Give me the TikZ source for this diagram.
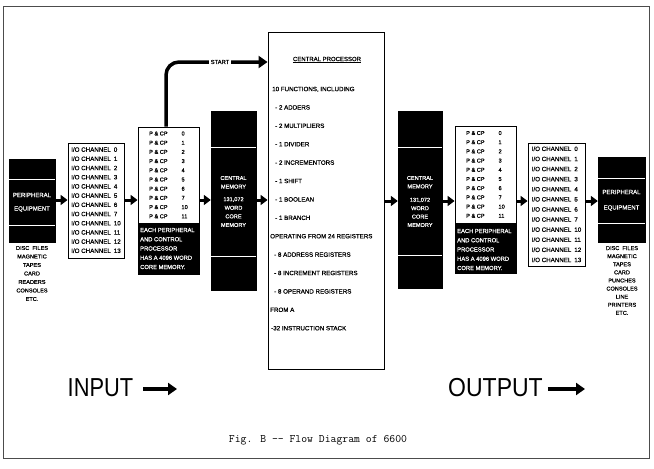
\documentclass[tikz,border=0pt]{standalone}
\usepackage{fontspec}
\setmainfont{Liberation Sans}
\newfontfamily\lett{Liberation Sans}[FakeBold=0.6]
\usetikzlibrary{arrows.meta}
\begin{document}
\begin{tikzpicture}[x=1pt,y=-1pt,
  box/.style={draw, line width=0.9pt, inner sep=0pt, fill=white},
  blk/.style={fill=black, draw=black, inner sep=0pt},
  wline/.style={draw=white, line width=1pt},
  arr/.style={line width=3pt, -{Triangle[length=7pt,width=10pt]}},
  bigarr/.style={line width=4pt, -{Triangle[length=9pt,width=12pt]}},
  wtxt/.style={text=white, inner sep=0pt, align=center},
  btxt/.style={inner sep=0pt, align=center},
]
\useasboundingbox (0,0) rectangle (654,469);
\draw[line width=0.8pt, black!70] (3.5,6) rectangle (649,458);

% ---------- left peripheral equipment
\node[blk, minimum width=46pt, minimum height=83pt] (lpe) at (32,200.5) {};
\draw[wline] (lpe.west |- 0,179) -- (lpe.east |- 0,179);
\draw[wline] (lpe.west |- 0,225) -- (lpe.east |- 0,225);
\node[wtxt, font=\lett\fontsize{6}{7}\selectfont] (lpe1) at (32,195) {PERIPHERAL};
\node[wtxt, font=\lett\fontsize{6}{7}\selectfont] (lpe2) at (32,209) {EQUIPMENT};
\node[btxt, font=\lett\fontsize{5.6}{8.5}\selectfont] (lpel) at (32,273.5)
  {DISC\ \ FILES\\MAGNETIC\\TAPES\\CARD\\READERS\\CONSOLES\\ETC.};

% ---------- left I/O channels
\node[box, minimum width=56pt, minimum height=115pt, font=\lett\fontsize{6.2}{9.2}\selectfont] (lio) at (96,200.5)
  {\begin{tabular}{@{}l@{\hspace{3pt}}l@{}}
   I/O CHANNEL & 0\\ I/O CHANNEL & 1\\ I/O CHANNEL & 2\\ I/O CHANNEL & 3\\
   I/O CHANNEL & 4\\ I/O CHANNEL & 5\\ I/O CHANNEL & 6\\ I/O CHANNEL & 7\\
   I/O CHANNEL & 10\\ I/O CHANNEL & 11\\ I/O CHANNEL & 12\\ I/O CHANNEL & 13
   \end{tabular}};

% ---------- left PPUs
\node[box, minimum width=61pt, minimum height=96pt, font=\lett\fontsize{5.6}{9.2}\selectfont] (lppu) at (168.5,175)
  {\begin{tabular}{@{}l@{\hspace{14pt}}l@{}}
   P \& CP & 0\\ P \& CP & 1\\ P \& CP & 2\\ P \& CP & 3\\ P \& CP & 4\\
   P \& CP & 5\\ P \& CP & 6\\ P \& CP & 7\\ P \& CP & 10\\ P \& CP & 11
   \end{tabular}};
\node[blk, minimum width=61pt, minimum height=51pt] (lppub) at (168.5,248.5) {};
\node[text=white, inner sep=0pt, align=left, anchor=west, font=\lett\fontsize{5.8}{9.25}\selectfont] (lppt) at (140,248.5)
  {EACH PERIPHERAL\\AND CONTROL\\PROCESSOR\\HAS A 4096 WORD\\CORE MEMORY.};

% ---------- left central memory
\node[blk, minimum width=45pt, minimum height=179pt] (lcm) at (233.5,200.5) {};
\draw[wline] (lcm.west |- 0,147) -- (lcm.east |- 0,147);
\draw[wline] (lcm.west |- 0,256) -- (lcm.east |- 0,256);
\node[wtxt, font=\lett\fontsize{5.6}{8.6}\selectfont] (lcmt) at (233.5,201.5)
  {CENTRAL\\MEMORY\\[4pt]131,072\\WORD\\CORE\\MEMORY};

% ---------- central processor
\node[box, minimum width=116pt, minimum height=337pt] (cp) at (326,200.5) {};
\node[btxt, font=\lett\fontsize{6}{7}\selectfont] (cpt) at (327,60) {\underline{CENTRAL PROCESSOR}};
\node[inner sep=0pt, align=left, anchor=west, font=\lett\fontsize{6.2}{18.4}\selectfont] (cpl) at (270,208.6)
  {\hspace*{2pt}10 FUNCTIONS, INCLUDING\\
   \hspace*{5pt}- 2 ADDERS\\
   \hspace*{5pt}- 2 MULTIPLIERS\\
   \hspace*{5pt}- 1 DIVIDER\\
   \hspace*{5pt}- 2 INCREMENTORS\\
   \hspace*{5pt}- 1 SHIFT\\
   \hspace*{5pt}- 1 BOOLEAN\\
   \hspace*{5pt}- 1 BRANCH\\
   OPERATING FROM 24 REGISTERS\\
   \hspace*{4pt}- 8 ADDRESS REGISTERS\\
   \hspace*{4pt}- 8 INCREMENT REGISTERS\\
   \hspace*{4pt}- 8 OPERAND REGISTERS\\
   FROM A\\
   \hspace*{1pt}-32 INSTRUCTION STACK};

% ---------- right central memory
\node[blk, minimum width=44pt, minimum height=177pt] (rcm) at (420,199.5) {};
\draw[wline] (rcm.west |- 0,147) -- (rcm.east |- 0,147);
\draw[wline] (rcm.west |- 0,255) -- (rcm.east |- 0,255);
\node[wtxt, font=\lett\fontsize{5.6}{8.4}\selectfont] (rcmt) at (420,201.5)
  {CENTRAL\\MEMORY\\[5pt]131,072\\WORD\\CORE\\MEMORY};

% ---------- right PPUs
\node[box, minimum width=61pt, minimum height=97pt, font=\lett\fontsize{5.6}{9.2}\selectfont] (rppu) at (485.5,174.5)
  {\begin{tabular}{@{}l@{\hspace{14pt}}l@{}}
   P \& CP & 0\\ P \& CP & 1\\ P \& CP & 2\\ P \& CP & 3\\ P \& CP & 4\\
   P \& CP & 5\\ P \& CP & 6\\ P \& CP & 7\\ P \& CP & 10\\ P \& CP & 11
   \end{tabular}};
\node[blk, minimum width=61pt, minimum height=50pt] (rppub) at (485.5,248) {};
\node[text=white, inner sep=0pt, align=left, anchor=west, font=\lett\fontsize{5.8}{9.25}\selectfont] (rppt) at (457,249.5)
  {EACH PERIPHERAL\\AND CONTROL\\PROCESSOR\\HAS A 4096 WORD\\CORE MEMORY.};

% ---------- right I/O channels
\node[box, minimum width=57pt, minimum height=123pt, font=\lett\fontsize{6.2}{10.1}\selectfont] (rio) at (556.5,204.5)
  {\begin{tabular}{@{}l@{\hspace{3pt}}l@{}}
   I/O CHANNEL & 0\\ I/O CHANNEL & 1\\ I/O CHANNEL & 2\\ I/O CHANNEL & 3\\
   I/O CHANNEL & 4\\ I/O CHANNEL & 5\\ I/O CHANNEL & 6\\ I/O CHANNEL & 7\\
   I/O CHANNEL & 10\\ I/O CHANNEL & 11\\ I/O CHANNEL & 12\\ I/O CHANNEL & 13
   \end{tabular}};

% ---------- right peripheral equipment
\node[blk, minimum width=47pt, minimum height=85pt] (rpe) at (621.5,199.5) {};
\draw[wline] (rpe.west |- 0,178) -- (rpe.east |- 0,178);
\draw[wline] (rpe.west |- 0,223) -- (rpe.east |- 0,223);
\node[wtxt, font=\lett\fontsize{6}{7}\selectfont] (rpe1) at (621.5,192) {PERIPHERAL};
\node[wtxt, font=\lett\fontsize{6}{7}\selectfont] (rpe2) at (621.5,208) {EQUIPMENT};
\node[btxt, font=\lett\fontsize{5.6}{8.1}\selectfont] (rpel) at (622,280.5)
  {DISC\ \ FILES\\MAGNETIC\\TAPES\\CARD\\PUNCHES\\CONSOLES\\LINE\\PRINTERS\\ETC.};

% ---------- flow arrows
\coordinate (ya) at (0,200);
\coordinate (yb) at (0,201);
\draw[arr] (lpe.east |- ya) -- (lio.west |- ya);
\draw[arr] (lio.east |- ya) -- (lppu.west |- ya);
\draw[arr] (lppu.east |- ya) -- (lcm.west |- ya);
\draw[arr] (lcm.east |- ya) -- (cp.west |- ya);
\draw[arr] (cp.east |- yb) -- (rcm.west |- yb);
\draw[arr] (rcm.east |- yb) -- (rppu.west |- yb);
\draw[arr] (rppu.east |- yb) -- (rio.west |- yb);
\draw[arr] (rio.east |- yb) -- (rpe.west |- yb);

% ---------- start arrow
\draw[line width=3.5pt, -{Triangle[length=9pt,width=12pt]}, rounded corners=13pt]
  ([xshift=-2.5pt]lppu.north) |- (cp.west |- 0,62);
\node[fill=white, inner xsep=2pt, inner ysep=2.5pt, font=\lett\fontsize{5.8}{7}\selectfont] (startl) at (220,62) {START};

% ---------- INPUT / OUTPUT
\node[inner sep=0pt, font=\fontsize{26}{28}\selectfont] (inp) at (100.5,388) {\scalebox{0.84}[1]{INPUT}};
\coordinate (inpend) at (177,389);
\draw[bigarr] ([xshift=10pt]inp.east |- inpend) -- (inpend);
\node[inner sep=0pt, font=\fontsize{26}{28}\selectfont] (outp) at (495.5,388) {\scalebox{0.885}[1]{OUTPUT}};
\coordinate (outend) at (585,389);
\draw[bigarr] ([xshift=5pt]outp.east |- outend) -- (outend);

% ---------- caption
\node[inner sep=0pt, font=\ttfamily\fontsize{11.4}{13}\selectfont] (capt) at (318,440) {Fig. B -{}- Flow Diagram of 6600};
\end{tikzpicture}
\end{document}
